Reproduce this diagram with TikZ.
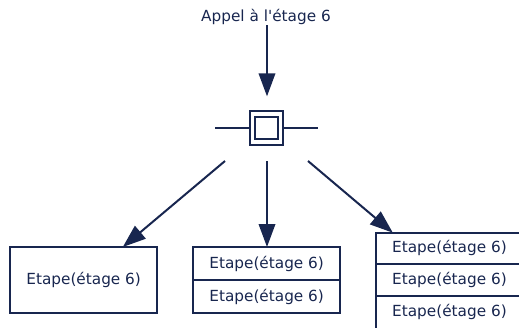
\documentclass[tikz,border=0pt]{standalone}
\usepackage{fontspec}
\setmainfont{DejaVu Sans}
\usetikzlibrary{arrows.meta,fit}
\definecolor{navy}{HTML}{18264F}
\begin{document}
\begin{tikzpicture}[x=1pt,y=-1pt,line width=2pt,color=navy,
  font=\fontsize{15.3}{18}\selectfont,
  box/.style={draw=navy,inner sep=0pt,outer sep=0pt,minimum width=146.7pt,anchor=north west},
  arr/.style={-{Triangle[length=23pt,width=16.5pt]},draw=navy,line width=2pt}]
\useasboundingbox (0,0) rectangle (519,327);
\clip (0,0) rectangle (519,327);
% title
\node[anchor=base,inner sep=0pt] (title) at (266,21.7) {Appel à l\textquotesingle étage 6};
% double square
\node[draw=navy,inner sep=0pt,minimum size=33.3pt] (sq) at (266.7,128) {};
\node[draw=navy,inner sep=0pt,minimum size=22.7pt] (sqin) at (sq.center) {};
\coordinate (hl) at (215,128);
\coordinate (hr) at (318,128);
\draw (hl) -- (sq.west);
\draw (sq.east) -- (hr);
% boxes
\node[box,minimum height=66pt] (b1) at (10.3,247) {Etape(étage 6)};
\node[box,minimum height=33pt] (b2a) at (193.3,247) {Etape(étage 6)};
\node[box,minimum height=33.3pt] (b2b) at (b2a.south west) {Etape(étage 6)};
\node[box,minimum width=147pt,minimum height=31pt] (b3a) at (376,232.7) {Etape(étage 6)};
\node[box,minimum width=147pt,minimum height=32.5pt] (b3b) at (b3a.south west) {Etape(étage 6)};
\node[box,minimum width=147pt,minimum height=32.5pt] (b3c) at (b3b.south west) {Etape(étage 6)};
\node[fit=(b3a)(b3b)(b3c),inner sep=0pt,outer sep=0pt] (b3) {};
\node[fit=(b2a)(b2b),inner sep=0pt,outer sep=0pt] (b2) {};
% arrows
\coordinate (a0) at (267,25);
\coordinate (s1) at (225,161);
\coordinate (s2) at (267,161);
\coordinate (s3) at (308,161);
\draw[arr] (a0) -- ([yshift=14pt]sq.north -| a0);
\draw[arr] (s1) -- (b1);
\draw[arr] (s2) -- (s2 |- b2.north);
\draw[arr] (s3) -- (b3);
\end{tikzpicture}
\end{document}
